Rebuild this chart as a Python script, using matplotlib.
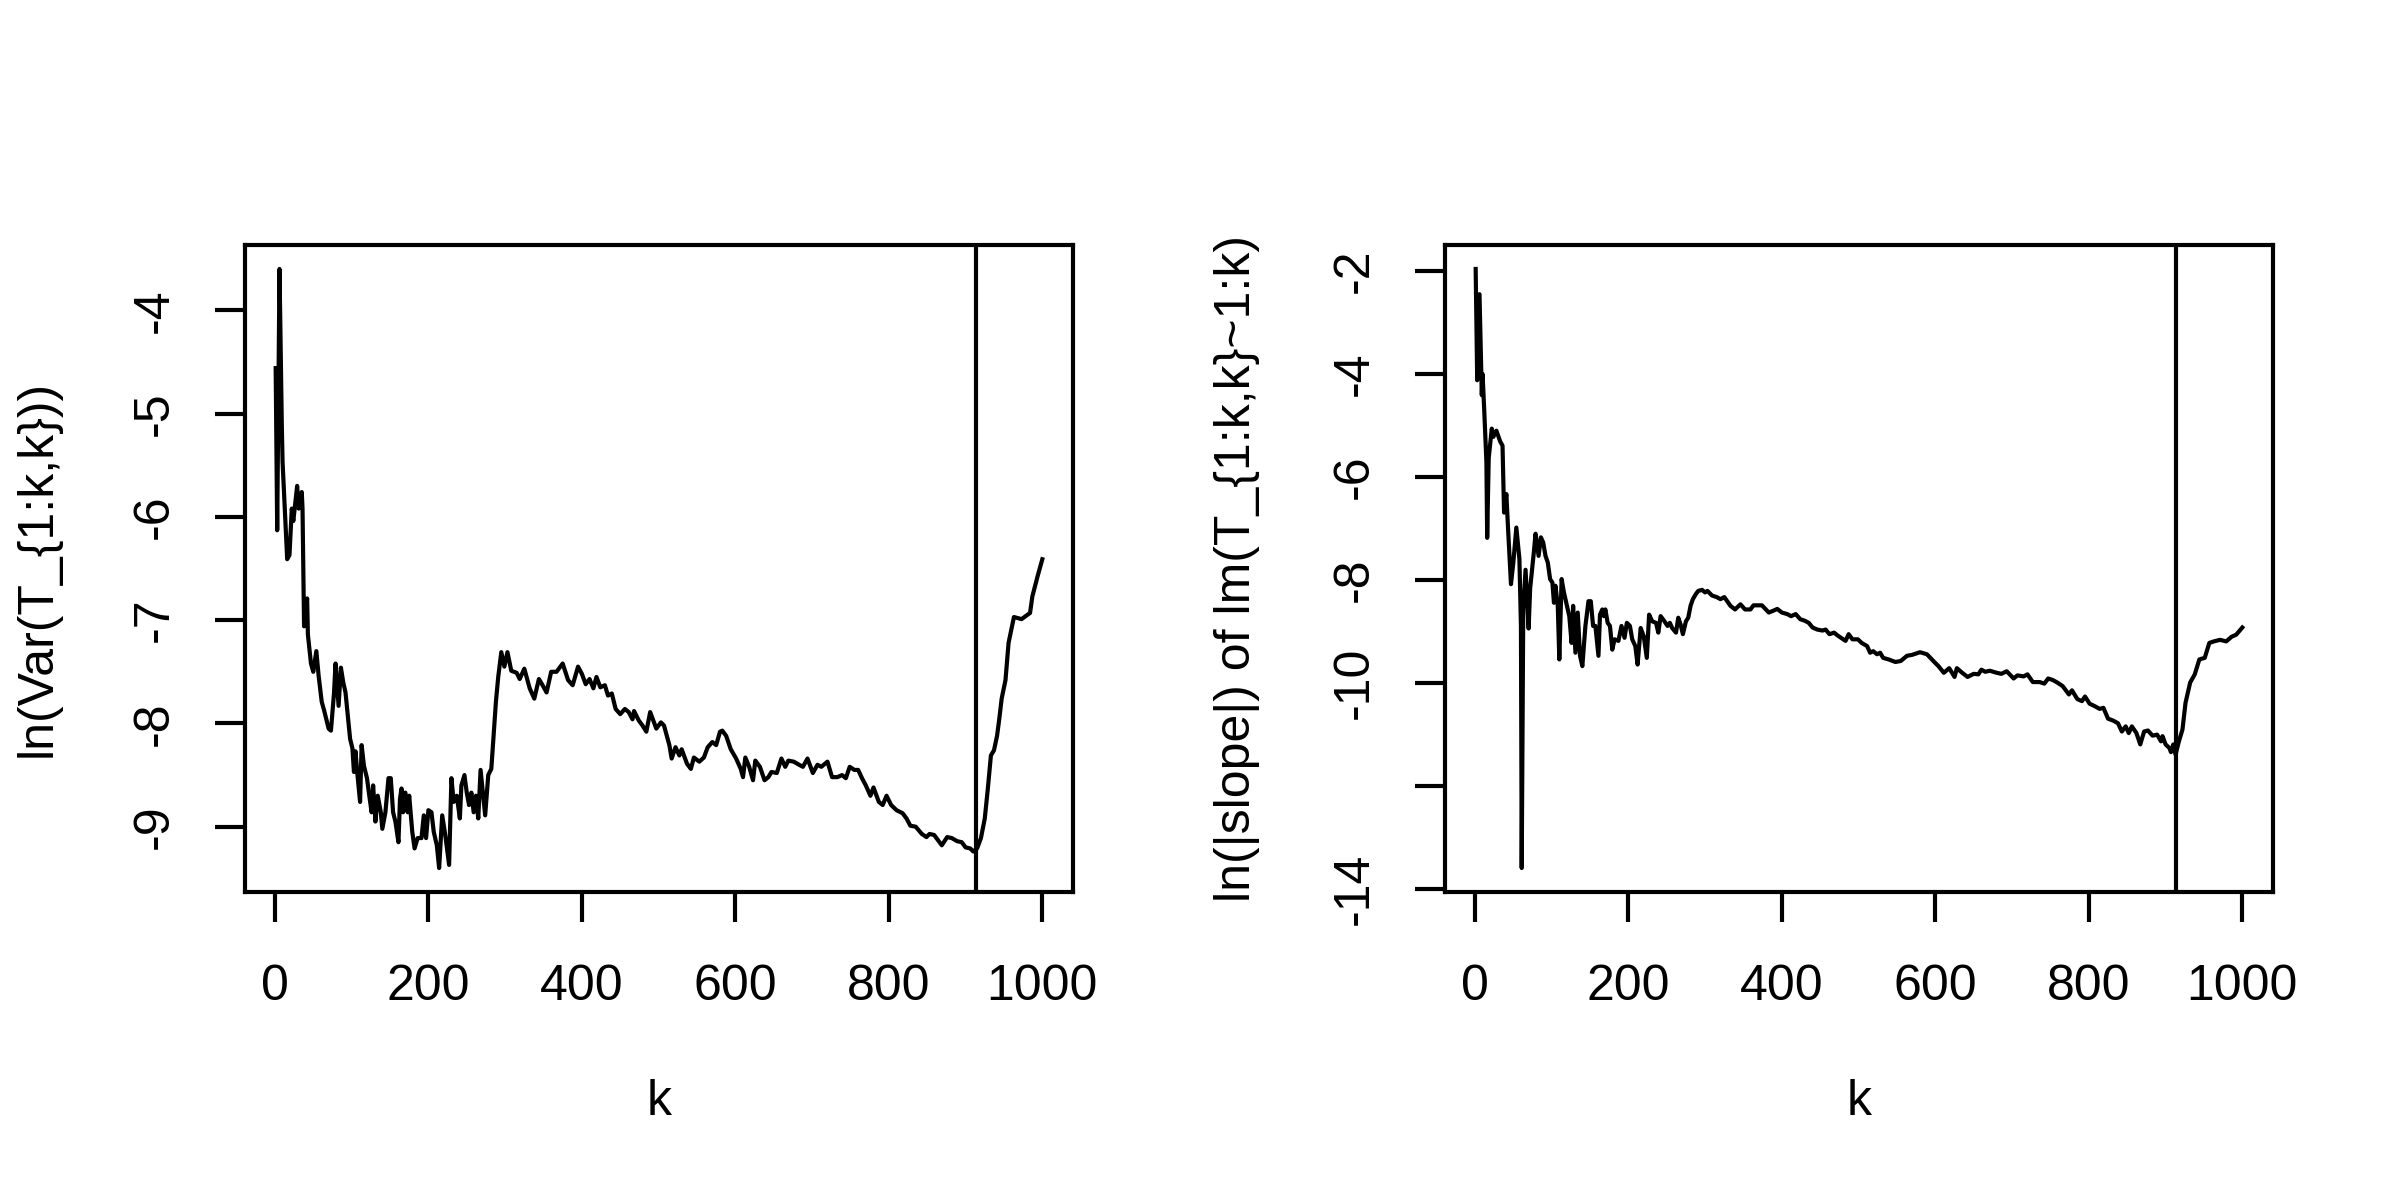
import matplotlib
matplotlib.use("Agg")
import matplotlib.pyplot as plt

plt.rcParams['font.family'] = ['Liberation Sans', 'DejaVu Sans']

# ---- data ----
k_var = [1, 3, 6, 9, 10, 16, 19, 22, 24, 27, 29, 31, 35, 36, 38, 42, 43, 47, 50, 54, 57, 61, 64,
         70, 73, 77, 79,
         83, 86, 89, 92, 95, 98, 101, 103, 105, 108, 111, 113, 116, 120, 123, 126, 128, 131,
         134, 138, 140, 144, 148, 151, 154, 157, 161, 163, 165, 167, 170, 173, 175, 179, 182,
         186, 191, 194, 197, 200, 204, 207, 211, 214, 218, 222, 227, 230, 233, 237, 241, 243,
         247, 250, 253, 256, 259, 262, 265, 268, 271, 274, 278, 282, 285, 288, 291,
         295, 299, 303, 308, 315, 319, 325, 332, 338, 344, 348,
         354, 360, 367, 375, 382, 388, 395, 400, 405, 410, 415, 419, 424, 430, 434, 439, 444,
         450, 456, 461, 466, 468, 474, 479, 484, 489, 494, 497, 503, 507, 514, 517, 522, 527,
         530, 537, 542, 546, 553, 559, 564, 570, 575, 580, 583, 588, 594, 601, 607, 610, 613,
         618, 623, 626, 632, 638, 643, 647, 654, 660, 665, 669, 676, 683, 688, 694, 701, 707,
         712, 720, 726, 733, 739, 744, 749, 755, 760, 765, 770, 776, 780, 787, 792, 797, 803,
         810, 818, 823, 828, 835, 843, 849, 853, 859, 864, 869, 876, 882, 889, 895, 900, 906,
         910, 915, 920, 925, 929, 933, 937, 941, 944, 947, 952, 956, 963, 973, 984, 987, 994,
         1000]
ln_var = [-4.56, -6.13, -3.60, -5.11, -5.47, -6.41, -6.37, -5.92, -6.04, -5.84, -5.70, -5.92,
          -5.76, -5.92, -7.06, -6.79, -7.14, -7.42, -7.50, -7.30, -7.54, -7.79, -7.87, -8.05,
          -8.07, -7.71, -7.42,
          -7.83, -7.46, -7.60, -7.70, -7.92, -8.15, -8.24, -8.47, -8.27, -8.53,
          -8.76, -8.21, -8.41, -8.53, -8.70, -8.86, -8.60, -8.95, -8.70, -8.86,
          -9.02, -8.86, -8.53, -8.53, -8.86, -8.95, -9.15, -8.73, -8.63, -8.86,
          -8.67, -8.86, -8.70, -9.05, -9.21, -9.11, -9.11, -8.89, -9.11, -8.84,
          -8.86, -9.05, -9.18, -9.40, -8.89, -9.08, -9.37, -8.53, -8.76, -8.70,
          -8.92, -8.60, -8.50, -8.67, -8.79, -8.67, -8.86, -8.70, -8.92, -8.45,
          -8.67, -8.89, -8.50, -8.44, -8.12, -7.79, -7.55,
          -7.31, -7.45, -7.31, -7.49, -7.51, -7.57,
          -7.47, -7.66, -7.76, -7.57, -7.62, -7.70, -7.50, -7.50, -7.42, -7.58, -7.63, -7.45,
          -7.52, -7.62, -7.57, -7.66, -7.55, -7.65, -7.63, -7.73, -7.71, -7.86, -7.91, -7.86,
          -7.89, -7.96, -7.88, -7.97, -8.02, -8.08, -7.89, -7.99, -8.05, -7.99, -8.02, -8.21,
          -8.34, -8.23, -8.31, -8.25, -8.39, -8.44, -8.33, -8.37, -8.33, -8.23, -8.18, -8.21,
          -8.08, -8.07, -8.12, -8.25, -8.34, -8.44, -8.52, -8.33, -8.42, -8.55, -8.36, -8.42,
          -8.55, -8.52, -8.47, -8.48, -8.34, -8.42, -8.36, -8.37, -8.40, -8.42, -8.34, -8.48,
          -8.40, -8.42, -8.37, -8.52, -8.52, -8.50, -8.53, -8.42, -8.45, -8.45, -8.53, -8.60,
          -8.70, -8.62, -8.76, -8.79, -8.70, -8.79, -8.84, -8.87, -8.92, -8.99, -9.00, -9.07,
          -9.10, -9.07, -9.08, -9.13, -9.18, -9.10, -9.11, -9.14, -9.15, -9.20, -9.21, -9.24,
          -9.21, -9.11, -8.92, -8.63, -8.31, -8.26, -8.12, -7.95, -7.76, -7.58, -7.22, -6.97,
          -6.99, -6.93, -6.77, -6.57, -6.41]

k_slope = [1, 3, 6, 9, 10, 12, 15, 16, 18, 22, 24, 28, 33, 36, 38, 41, 43, 47, 50, 54, 58, 60,
           61, 63, 66, 70, 72, 77, 79,
           83, 86, 89, 92, 95, 98, 101, 103, 105, 108, 110, 113, 116, 120, 123, 126, 128, 131,
           134, 137, 140, 144, 148, 151, 154, 157, 161, 163, 166, 168, 170, 173, 176, 179, 182,
           187, 191, 195, 198, 202, 205, 209, 212, 216, 220, 224, 227, 231, 236, 239, 242, 247,
           251, 254, 257, 262, 265, 268, 271, 275, 278, 281, 284, 288,
           291, 296, 300, 303, 309, 315, 320, 325, 333, 339, 346, 352, 359, 363, 374, 383, 388,
           394, 400, 407, 412, 418, 424, 430, 435, 440, 446, 453, 457, 462, 468, 473, 477, 483,
           487, 492, 499, 504, 511, 515, 519, 524, 528, 532, 539, 548, 555, 563, 570, 580, 589,
           598, 604, 611, 618, 625, 628, 635, 642, 650, 656, 660, 665, 671, 680, 686, 693, 702,
           707, 715, 720, 727, 736, 742, 747, 753, 759, 766, 774, 778, 785, 791, 795, 801, 808,
           814, 819, 825, 832, 838, 843, 848, 852, 856, 862, 867, 872, 877, 883, 889, 894, 896,
           900, 905, 907, 910, 913, 917, 922, 926, 932, 938, 944, 951, 957, 963, 971, 979, 986,
           992, 1000]
ln_slope = [-1.96, -4.12, -2.45, -4.41, -4.00, -4.65, -5.71, -7.18, -5.63, -5.06, -5.22, -5.10,
            -5.31, -5.39, -6.69, -6.33, -6.94, -8.08, -7.67, -6.98, -7.59, -8.90, -13.59, -8.57,
            -7.80, -8.94, -8.16, -7.43, -7.10,
            -7.53, -7.17, -7.27, -7.53, -7.66, -7.98, -8.05, -8.44, -8.11, -8.50,
            -9.54, -7.98, -8.24, -8.50, -8.70, -9.22, -8.50, -9.41, -8.63, -9.47,
            -9.67, -8.89, -8.41, -8.41, -8.89, -8.89, -9.47, -8.67, -8.57, -8.70,
            -8.57, -8.83, -8.89, -9.35, -9.15, -9.18, -8.89, -9.12, -8.83, -8.89,
            -9.15, -9.28, -9.64, -8.93, -9.09, -9.51, -8.67, -8.80, -8.83, -9.02,
            -8.70, -8.80, -8.89, -8.83, -8.93, -9.02, -8.73, -8.86, -9.05, -8.80,
            -8.73, -8.50, -8.37, -8.27,
            -8.21, -8.19, -8.24, -8.21, -8.30, -8.33, -8.37, -8.33, -8.50, -8.57, -8.47, -8.57,
            -8.57, -8.49, -8.49, -8.63, -8.60, -8.56, -8.63, -8.66, -8.70, -8.66, -8.76, -8.79,
            -8.83, -8.92, -8.96, -8.98, -8.96, -9.05, -9.02, -9.08, -9.12, -9.18, -9.05, -9.15,
            -9.15, -9.22, -9.28, -9.41, -9.38, -9.44, -9.41, -9.51, -9.54, -9.59, -9.57, -9.47,
            -9.45, -9.40, -9.44, -9.58, -9.67, -9.80, -9.71, -9.88, -9.71, -9.80, -9.88, -9.82,
            -9.83, -9.74, -9.78, -9.76, -9.80, -9.82, -9.77, -9.91, -9.85, -9.87, -9.83, -9.98,
            -9.98, -10.01, -9.91, -9.94, -9.99, -10.06, -10.22, -10.14, -10.31, -10.35, -10.26,
            -10.40, -10.45, -10.50, -10.48, -10.69, -10.73, -10.78, -10.94, -10.84, -10.97,
            -10.84, -10.97, -11.19, -10.94, -10.92, -11.02, -11.00, -11.13, -11.03, -11.19,
            -11.26, -11.34, -11.19, -11.39, -11.15, -10.90, -10.38, -9.99, -9.83, -9.54, -9.51,
            -9.22, -9.19, -9.16, -9.19, -9.10, -9.06, -8.92]

change_point = 913

x_ticks = [0, 200, 400, 600, 800, 1000]
y_ticks_var = [-9, -8, -7, -6, -5, -4]
y_ticks_slope = [-14, -12, -10, -8, -6, -4, -2]
y_ticklabels_slope = ['-14', '', '-10', '-8', '-6', '-4', '-2']

xlabel = 'k'
ylabel_var = 'ln(Var(T_{1:k,k}))'
ylabel_slope = 'ln(|slope|) of lm(T_{1:k,k}~1:k)'

# ---- layout ----
W, H = 2400, 1200
fig = plt.figure(figsize=(8, 4), dpi=300)
box_bottom, box_top = 892, 245
panels = [
    (245, 1073, 38, k_var, ln_var, y_ticks_var, None, ylabel_var),
    (1445, 2273, 1237, k_slope, ln_slope, y_ticks_slope, y_ticklabels_slope, ylabel_slope),
]
FS = 12
LW = 1.0
for (x0, x1, xlab_pos, kk, vv, yt, ytl, ylab) in panels:
    ax = fig.add_axes([x0 / W, 1 - box_bottom / H, (x1 - x0) / W, (box_bottom - box_top) / H])
    ax.plot(kk, vv, color='black', linewidth=LW, solid_joinstyle='round')
    ax.axvline(change_point, color='black', linewidth=LW)
    ax.margins(x=0.04, y=0.04)
    ax.set_xticks(x_ticks)
    ax.set_xticklabels([str(t) for t in x_ticks])
    ax.set_yticks(yt)
    labels = [str(t) for t in yt] if ytl is None else ytl
    ax.set_yticklabels(labels, rotation=90, va='center')
    ax.tick_params(axis='both', direction='out', length=7.2, width=LW, labelsize=FS)
    ax.tick_params(axis='x', pad=10)
    ax.tick_params(axis='y', pad=9)
    for s in ax.spines.values():
        s.set_linewidth(LW)
    ax.set_xlabel(xlabel, fontsize=FS, va='center')
    ax.xaxis.set_label_coords(0.5, -(1102 - box_bottom) / (box_bottom - box_top))
    ax.set_ylabel(ylab, fontsize=FS, va='center')
    ax.yaxis.set_label_coords(-(x0 - xlab_pos) / (x1 - x0), 0.5)

fig.savefig('out.png', dpi=300)
